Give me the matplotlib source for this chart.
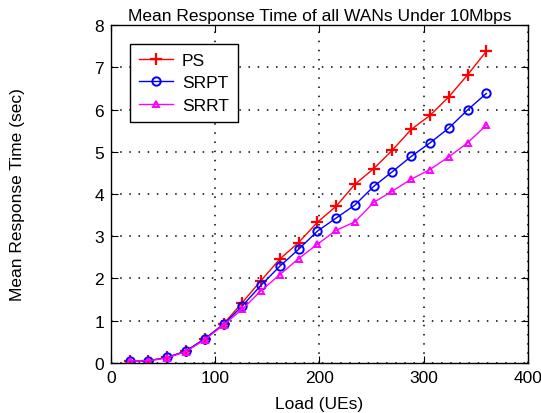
import matplotlib
matplotlib.use('Agg')
from matplotlib import pyplot as plt

plt.rcParams['font.family'] = ['Liberation Sans', 'DejaVu Sans']

load_ues = [18, 36, 54, 72, 90, 108, 126, 144, 162, 180,
            198, 216, 234, 252, 270, 288, 306, 324, 342, 360]
ps = [0.05, 0.05, 0.13, 0.28, 0.57, 0.92, 1.43, 1.95, 2.46, 2.85,
      3.33, 3.71, 4.23, 4.60, 5.04, 5.53, 5.86, 6.30, 6.82, 7.38]
srpt = [0.05, 0.05, 0.13, 0.28, 0.57, 0.91, 1.35, 1.84, 2.29, 2.69,
        3.12, 3.43, 3.74, 4.18, 4.53, 4.89, 5.21, 5.56, 5.99, 6.38]
srrt = [0.05, 0.05, 0.12, 0.27, 0.55, 0.90, 1.27, 1.71, 2.09, 2.47,
        2.81, 3.14, 3.34, 3.80, 4.07, 4.35, 4.58, 4.88, 5.21, 5.63]

x_ticks = [0, 100, 200, 300, 400]
y_ticks = [0, 1, 2, 3, 4, 5, 6, 7, 8]

fig = plt.figure(figsize=(5.41, 4.14), dpi=100)
ax = fig.add_axes([0.205, 0.121, 0.771, 0.816])

ax.plot(load_ues, ps, color='#ff0000', marker='+', markersize=8, markeredgewidth=1.6,
        linewidth=1, label='PS')
ax.plot(load_ues, srpt, color='#0000ff', marker='o', markersize=6, markerfacecolor='none',
        markeredgewidth=1.4, linewidth=1, label='SRPT')
ax.plot(load_ues, srrt, color='#ff00ff', marker='^', markersize=5, markerfacecolor='none',
        markeredgewidth=1.4, linewidth=1, label='SRRT')

ax.set_xlim(0, 400)
ax.set_ylim(0, 8)
ax.set_xticks(x_ticks)
ax.set_yticks(y_ticks)
ax.tick_params(direction='in', top=True, right=True, labelsize=12.5, length=5, pad=5)
ax.grid(True, linestyle=(0, (1, 5)), color='black', linewidth=1.1)
for s in ax.spines.values():
    s.set_linewidth(1)

ax.set_title('Mean Response Time of all WANs Under 10Mbps', fontsize=12.5, pad=4)
ax.set_xlabel('Load (UEs)', fontsize=12.5)
ax.set_ylabel('Mean Response Time (sec)', fontsize=12.5)
ax.xaxis.set_label_coords(0.5, -0.097)
ax.yaxis.set_label_coords(-0.207, 0.5)

leg = ax.legend(loc='upper left', fontsize=12.5, fancybox=False, framealpha=1,
                edgecolor='black', borderaxespad=1.1, handlelength=2.0,
                handletextpad=0.5, labelspacing=0.42, borderpad=0.5)
leg.get_frame().set_linewidth(1)

fig.savefig('out.png', dpi=100)
